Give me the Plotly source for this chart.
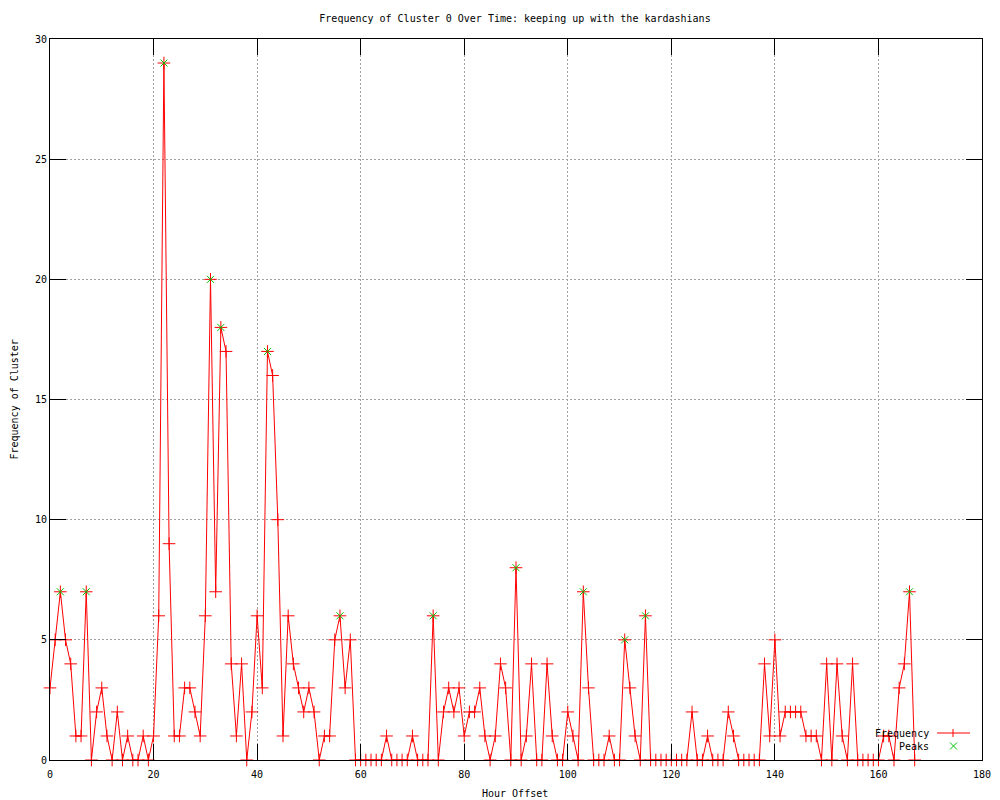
import plotly.graph_objects as go

# ---- data ----
hours = list(range(0, 168))
frequency = [
    3, 5, 7, 5, 4, 1, 1, 7, 0, 2,      # 0-9
    3, 1, 0, 2, 0, 1, 0, 0, 1, 0,      # 10-19
    1, 6, 29, 9, 1, 1, 3, 3, 2, 1,     # 20-29
    6, 20, 7, 18, 17, 4, 1, 4, 0, 2,   # 30-39
    6, 3, 17, 16, 10, 1, 6, 4, 3, 2,   # 40-49
    3, 2, 0, 1, 1, 5, 6, 3, 5, 0,      # 50-59
    0, 0, 0, 0, 0, 1, 0, 0, 0, 0,      # 60-69
    1, 0, 0, 0, 6, 0, 2, 3, 2, 3,      # 70-79
    1, 2, 2, 3, 1, 0, 1, 4, 3, 0,      # 80-89
    8, 0, 1, 4, 0, 0, 4, 1, 0, 0,      # 90-99
    2, 1, 0, 7, 3, 0, 0, 0, 1, 0,      # 100-109
    0, 5, 3, 1, 0, 6, 0, 0, 0, 0,      # 110-119
    0, 0, 0, 0, 2, 0, 0, 1, 0, 0,      # 120-129
    0, 2, 1, 0, 0, 0, 0, 0, 4, 1,      # 130-139
    5, 1, 2, 2, 2, 2, 1, 1, 1, 0,      # 140-149
    4, 0, 4, 1, 0, 4, 0, 0, 0, 0,      # 150-159
    0, 1, 1, 0, 3, 4, 7, 0,            # 160-167
]
peak_hours = [2, 7, 22, 31, 33, 42, 56, 74, 90, 103, 111, 115, 166]
peak_values = [7, 7, 29, 20, 18, 17, 6, 6, 8, 7, 5, 6, 7]

x_ticks = [0, 20, 40, 60, 80, 100, 120, 140, 160, 180]
y_ticks = [0, 5, 10, 15, 20, 25, 30]

title_text = "Frequency of Cluster 0 Over Time: keeping up with the kardashians"
x_label = "Hour Offset"
y_label = "Frequency of Cluster"
legend_labels = ["Frequency", "Peaks"]

RED = "#ff0000"
GREEN = "#00c000"
FONT = "DejaVu Sans Mono"

fig = go.Figure()
fig.add_trace(go.Scatter(
    x=hours, y=frequency, mode="lines+markers", name=legend_labels[0],
    line=dict(color=RED, width=1),
    marker=dict(symbol="cross-thin", size=9, line=dict(color=RED, width=1), color=RED),
    showlegend=False, cliponaxis=False,
))
fig.add_trace(go.Scatter(
    x=peak_hours, y=peak_values, mode="markers", name=legend_labels[1],
    marker=dict(symbol="x-thin", size=7, line=dict(color=GREEN, width=1), color=GREEN),
    showlegend=False, cliponaxis=False,
))

# page body has an 8px margin; the figure starts at (8, 8) on the page
OFF = 8
W, H = 1000, 800
# plot area in screenshot pixels
PL, PR, PT, PB = 49.5, 982, 39, 760
L = PL - OFF
T = PT - OFF
R = (OFF + W) - PR
B = (OFF + H) - PB
pw, ph = PR - PL, PB - PT

def px_x(px):
    return (px - PL) / pw

def px_y(py):
    return (PB - py) / ph

axis_common = dict(
    showline=True, linecolor="black", linewidth=1, mirror="ticks",
    ticks="inside", ticklen=16, tickcolor="black", tickwidth=1,
    showgrid=True, gridcolor="#a0a0a0", gridwidth=1, griddash="2px,2px",
    zeroline=False, automargin=False,
    tickfont=dict(family=FONT, size=10, color="black"),
)

fig.update_layout(
    width=W, height=H,
    margin=dict(l=L, r=R, t=T, b=B, pad=0, autoexpand=False),
    paper_bgcolor="white", plot_bgcolor="white",
    font=dict(family=FONT, size=10, color="black"),
    title=dict(text=title_text, x=(515 - OFF) / W, xanchor="center",
               y=1 - (18 - OFF) / H, yanchor="middle", yref="container",
               font=dict(family=FONT, size=10, color="black")),
    xaxis=dict(range=[0, 180], tickvals=x_ticks, ticktext=[str(v) for v in x_ticks],
               ticklabelstandoff=5, **axis_common),
    yaxis=dict(range=[0, 30], tickvals=y_ticks, ticktext=[str(v) for v in y_ticks], **axis_common),
    showlegend=False,
)

annotations = [
    dict(text=x_label, xref="paper", yref="paper", x=px_x(515), y=px_y(793),
         xanchor="center", yanchor="middle", showarrow=False, font=dict(family=FONT, size=10)),
    dict(text=y_label, xref="paper", yref="paper", x=px_x(13), y=px_y(400),
         xanchor="center", yanchor="middle", textangle=-90, showarrow=False, font=dict(family=FONT, size=10)),
    dict(text=legend_labels[0], xref="paper", yref="paper", x=px_x(931), y=px_y(733),
         xanchor="right", yanchor="middle", showarrow=False, font=dict(family=FONT, size=10)),
    dict(text=legend_labels[1], xref="paper", yref="paper", x=px_x(931), y=px_y(746),
         xanchor="right", yanchor="middle", showarrow=False, font=dict(family=FONT, size=10)),
]
fig.update_layout(annotations=annotations)

# custom legend samples (gnuplot style: text left, sample right)
shapes = [
    dict(type="line", xref="paper", yref="paper", x0=px_x(937), x1=px_x(970),
         y0=px_y(733), y1=px_y(733), line=dict(color=RED, width=1)),
    dict(type="line", xref="paper", yref="paper", x0=px_x(953), x1=px_x(953),
         y0=px_y(729), y1=px_y(737), line=dict(color=RED, width=1)),
    dict(type="line", xref="paper", yref="paper", x0=px_x(950), x1=px_x(957),
         y0=px_y(742.5), y1=px_y(749.5), line=dict(color=GREEN, width=1)),
    dict(type="line", xref="paper", yref="paper", x0=px_x(950), x1=px_x(957),
         y0=px_y(749.5), y1=px_y(742.5), line=dict(color=GREEN, width=1)),
]
fig.update_layout(shapes=shapes)

fig.write_html("out.html")
